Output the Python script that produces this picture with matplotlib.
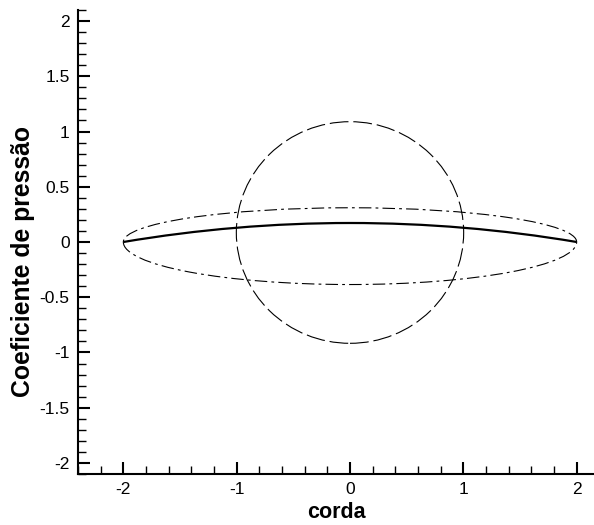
import numpy as np
import matplotlib
matplotlib.use('Agg')
import matplotlib.pyplot as plt
from matplotlib.patches import Arc, Circle
from matplotlib.ticker import MultipleLocator, FormatStrFormatter

plt.rcParams['font.family'] = ['Liberation Sans', 'DejaVu Sans']
plt.rcParams['axes.unicode_minus'] = False
plt.rcParams['lines.scale_dashes'] = False

# Geometria: circulo no plano z, elipse e arco de circulo (perfil) no plano transformado
circ_centro = (0.0, 0.086)
circ_raio = 1.003
elip_semi_x = 2.0
elip_semi_sup = 0.31
elip_semi_inf = 0.385
corda_meia = 2.0
arqueamento = 0.172

x_ticks = [-2, -1, 0, 1, 2]
y_ticks = [-2, -1.5, -1, -0.5, 0, 0.5, 1, 1.5, 2]

fig = plt.figure(figsize=(5.94, 5.25), dpi=100)
ax = fig.add_axes([78 / 594, 51 / 525, 516 / 594, 464 / 525])

# circulo tracejado
ax.add_patch(Circle(circ_centro, circ_raio, fill=False, ec='black', lw=0.8,
                    ls=(0, (13.5, 3.5))))

# elipse traco-ponto (metade superior e inferior)
tp = (0, (9, 3, 2, 3))
ax.add_patch(Arc((0, 0), 2 * elip_semi_x, 2 * elip_semi_sup, theta1=0, theta2=180,
                 ec='black', lw=0.8, ls=tp))
ax.add_patch(Arc((0, 0), 2 * elip_semi_x, 2 * elip_semi_inf, theta1=180, theta2=360,
                 ec='black', lw=0.8, ls=tp))

# arco de circulo (perfil) continuo
R = (corda_meia ** 2 + arqueamento ** 2) / (2 * arqueamento)
meio_ang = np.degrees(np.arcsin(corda_meia / R))
ax.add_patch(Arc((0, arqueamento - R), 2 * R, 2 * R, theta1=90 - meio_ang,
                 theta2=90 + meio_ang, ec='black', lw=1.6))

ax.set_xlim(-2.4, 2.153)
ax.set_ylim(-2.1, 2.1)

for s in ['top', 'right']:
    ax.spines[s].set_visible(False)
for s in ['left', 'bottom']:
    ax.spines[s].set_linewidth(1.5)

ax.set_xticks(x_ticks)
ax.set_yticks(y_ticks)
ax.xaxis.set_minor_locator(MultipleLocator(0.2))
ax.yaxis.set_minor_locator(MultipleLocator(0.1))
ax.yaxis.set_major_formatter(FormatStrFormatter('%g'))
ax.xaxis.set_major_formatter(FormatStrFormatter('%g'))
ax.tick_params(which='major', direction='in', length=8.6, width=1.5,
               labelsize=12.5, pad=6)
ax.tick_params(which='minor', direction='in', length=5.5, width=1.0)

ax.set_xlabel('corda', fontsize=15.5, fontweight='bold', labelpad=3)
ax.set_ylabel('Coeficiente de pressão', fontsize=17.8, fontweight='bold', labelpad=3)
ax.yaxis.label.set_y(0.459)

fig.savefig('out.png', dpi=100)
